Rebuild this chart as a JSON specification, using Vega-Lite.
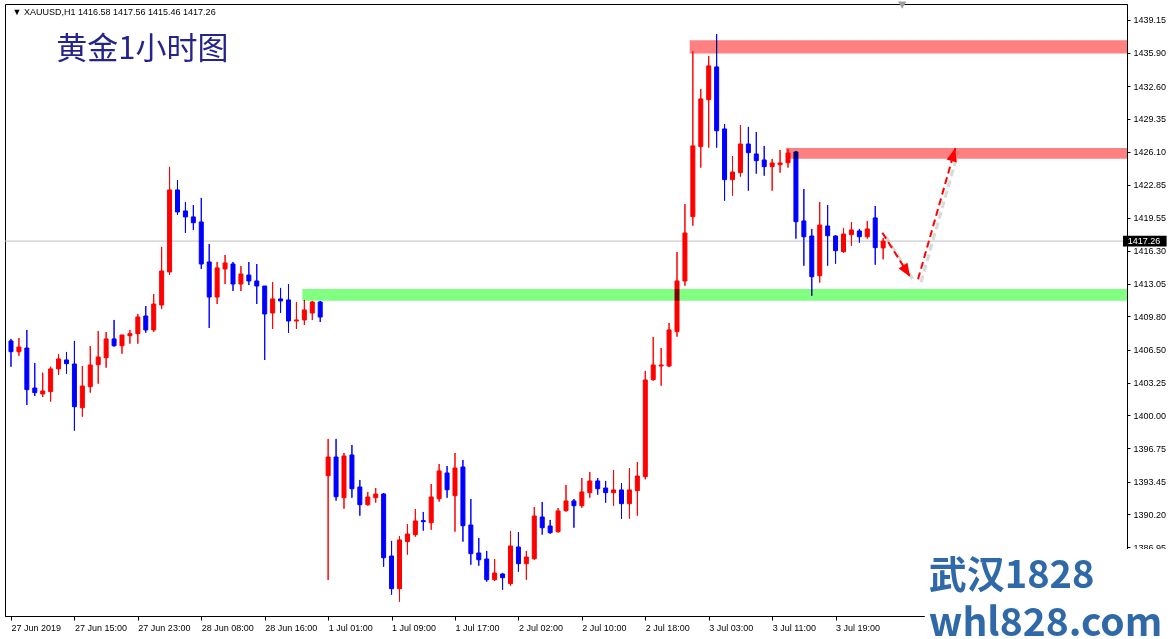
{
  "$schema": "https://vega.github.io/schema/vega-lite/v6.json",
  "width": 1122,
  "height": 612,
  "autosize": {"type": "none"},
  "padding": {"left": 5, "top": 4, "right": 48, "bottom": 23},
  "background": "white",
  "config": {
    "axis": {"labelFont": "Liberation Sans", "labelFontSize": 9, "labelColor": "#000", "tickColor": "#000", "domainColor": "#000", "grid": false, "domainWidth": 1, "tickWidth": 1, "labelOverlap": false, "labelFlush": false},
    "view": {"stroke": "#000", "strokeWidth": 1}
  },
  "datasets": {
    "candles": [
      {"t":0,"o":1407.37,"h":1407.57,"l":1404.82,"c":1406.31},
      {"t":1,"o":1406.31,"h":1407.66,"l":1405.91,"c":1406.77},
      {"t":2,"o":1406.67,"h":1408.46,"l":1401.03,"c":1402.55},
      {"t":3,"o":1402.71,"h":1405.19,"l":1401.92,"c":1402.25},
      {"t":4,"o":1402.12,"h":1404.23,"l":1401.82,"c":1402.42},
      {"t":5,"o":1402.35,"h":1404.82,"l":1401.36,"c":1404.60},
      {"t":6,"o":1404.60,"h":1406.08,"l":1404.00,"c":1405.59},
      {"t":7,"o":1405.49,"h":1406.28,"l":1404.13,"c":1405.12},
      {"t":8,"o":1405.09,"h":1407.37,"l":1398.49,"c":1400.86},
      {"t":9,"o":1400.76,"h":1404.89,"l":1399.87,"c":1402.91},
      {"t":10,"o":1402.84,"h":1406.87,"l":1402.25,"c":1404.99},
      {"t":11,"o":1405.02,"h":1408.36,"l":1403.14,"c":1405.78},
      {"t":12,"o":1405.71,"h":1408.26,"l":1404.72,"c":1407.57},
      {"t":13,"o":1407.57,"h":1409.45,"l":1406.80,"c":1406.90},
      {"t":14,"o":1406.90,"h":1407.96,"l":1406.11,"c":1407.96},
      {"t":15,"o":1407.89,"h":1408.46,"l":1407.10,"c":1408.09},
      {"t":16,"o":1408.09,"h":1410.04,"l":1407.10,"c":1409.74},
      {"t":17,"o":1409.84,"h":1410.83,"l":1408.19,"c":1408.46},
      {"t":18,"o":1408.46,"h":1412.02,"l":1408.26,"c":1411.03},
      {"t":19,"o":1410.93,"h":1416.68,"l":1410.54,"c":1414.30},
      {"t":20,"o":1414.20,"h":1424.60,"l":1413.90,"c":1422.32},
      {"t":21,"o":1422.32,"h":1423.31,"l":1419.84,"c":1420.14},
      {"t":22,"o":1420.24,"h":1421.13,"l":1418.06,"c":1419.65},
      {"t":23,"o":1419.65,"h":1420.83,"l":1418.36,"c":1419.08},
      {"t":24,"o":1419.15,"h":1421.53,"l":1414.50,"c":1414.99},
      {"t":25,"o":1415.19,"h":1416.97,"l":1408.66,"c":1411.72},
      {"t":26,"o":1411.72,"h":1415.19,"l":1411.03,"c":1414.60},
      {"t":27,"o":1414.50,"h":1415.88,"l":1413.01,"c":1415.09},
      {"t":28,"o":1414.99,"h":1415.19,"l":1412.32,"c":1413.01},
      {"t":29,"o":1413.01,"h":1414.79,"l":1412.32,"c":1414.00},
      {"t":30,"o":1413.90,"h":1415.19,"l":1412.91,"c":1413.31},
      {"t":31,"o":1413.31,"h":1414.99,"l":1411.03,"c":1412.81},
      {"t":32,"o":1412.81,"h":1412.81,"l":1405.49,"c":1410.04},
      {"t":33,"o":1410.14,"h":1413.21,"l":1408.56,"c":1411.53},
      {"t":34,"o":1411.53,"h":1412.62,"l":1410.14,"c":1411.33},
      {"t":35,"o":1411.43,"h":1413.01,"l":1408.16,"c":1409.35},
      {"t":36,"o":1409.35,"h":1411.23,"l":1408.56,"c":1409.45},
      {"t":37,"o":1409.45,"h":1411.43,"l":1408.95,"c":1410.44},
      {"t":38,"o":1410.14,"h":1411.33,"l":1409.45,"c":1411.23},
      {"t":39,"o":1411.23,"h":1411.33,"l":1409.25,"c":1409.74},
      {"t":40,"o":1394.03,"h":1397.67,"l":1383.70,"c":1395.88},
      {"t":41,"o":1395.88,"h":1397.67,"l":1391.56,"c":1391.95},
      {"t":42,"o":1391.85,"h":1396.28,"l":1390.76,"c":1395.98},
      {"t":43,"o":1396.08,"h":1397.07,"l":1391.85,"c":1392.74},
      {"t":44,"o":1392.91,"h":1393.61,"l":1390.07,"c":1391.16},
      {"t":45,"o":1391.16,"h":1392.42,"l":1391.06,"c":1391.92},
      {"t":46,"o":1391.85,"h":1392.81,"l":1391.36,"c":1392.22},
      {"t":47,"o":1392.22,"h":1392.32,"l":1385.02,"c":1385.91},
      {"t":48,"o":1386.08,"h":1387.57,"l":1382.25,"c":1382.84},
      {"t":49,"o":1382.84,"h":1388.06,"l":1381.56,"c":1387.67},
      {"t":50,"o":1387.50,"h":1389.25,"l":1386.21,"c":1388.26},
      {"t":51,"o":1388.19,"h":1390.73,"l":1387.99,"c":1389.55},
      {"t":52,"o":1389.58,"h":1390.44,"l":1388.59,"c":1389.48},
      {"t":53,"o":1389.38,"h":1393.21,"l":1388.68,"c":1391.92},
      {"t":54,"o":1391.75,"h":1395.19,"l":1391.46,"c":1394.50},
      {"t":55,"o":1394.30,"h":1394.99,"l":1391.85,"c":1392.64},
      {"t":56,"o":1392.05,"h":1396.28,"l":1388.49,"c":1394.79},
      {"t":57,"o":1394.89,"h":1395.59,"l":1387.50,"c":1389.08},
      {"t":58,"o":1389.15,"h":1391.72,"l":1385.22,"c":1386.31},
      {"t":59,"o":1386.38,"h":1387.86,"l":1385.12,"c":1385.71},
      {"t":60,"o":1385.78,"h":1386.58,"l":1383.54,"c":1383.73},
      {"t":61,"o":1383.73,"h":1385.78,"l":1383.63,"c":1384.40},
      {"t":62,"o":1384.30,"h":1384.40,"l":1382.74,"c":1383.93},
      {"t":63,"o":1383.34,"h":1388.56,"l":1383.14,"c":1387.07},
      {"t":64,"o":1386.97,"h":1388.46,"l":1384.53,"c":1385.32},
      {"t":65,"o":1385.32,"h":1386.58,"l":1383.73,"c":1385.98},
      {"t":66,"o":1385.81,"h":1390.93,"l":1385.71,"c":1390.04},
      {"t":67,"o":1389.94,"h":1391.43,"l":1388.19,"c":1388.88},
      {"t":68,"o":1389.05,"h":1389.65,"l":1388.29,"c":1388.39},
      {"t":69,"o":1388.49,"h":1390.83,"l":1388.39,"c":1390.54},
      {"t":70,"o":1390.57,"h":1393.11,"l":1390.47,"c":1391.53},
      {"t":71,"o":1391.53,"h":1391.72,"l":1388.88,"c":1391.06},
      {"t":72,"o":1391.06,"h":1393.80,"l":1390.86,"c":1392.42},
      {"t":73,"o":1392.35,"h":1394.40,"l":1391.85,"c":1393.51},
      {"t":74,"o":1393.51,"h":1393.80,"l":1392.15,"c":1392.74},
      {"t":75,"o":1392.81,"h":1393.51,"l":1391.36,"c":1392.35},
      {"t":76,"o":1392.35,"h":1394.60,"l":1391.06,"c":1392.62},
      {"t":77,"o":1392.62,"h":1393.31,"l":1389.77,"c":1391.26},
      {"t":78,"o":1391.26,"h":1394.79,"l":1389.77,"c":1392.62},
      {"t":79,"o":1392.55,"h":1395.39,"l":1390.07,"c":1394.00},
      {"t":80,"o":1393.93,"h":1404.40,"l":1393.68,"c":1403.51},
      {"t":81,"o":1403.54,"h":1407.76,"l":1403.44,"c":1404.99},
      {"t":82,"o":1404.89,"h":1406.67,"l":1402.94,"c":1404.99},
      {"t":83,"o":1404.89,"h":1409.15,"l":1404.79,"c":1408.46},
      {"t":84,"o":1408.29,"h":1416.18,"l":1407.79,"c":1413.31},
      {"t":85,"o":1413.31,"h":1420.93,"l":1412.84,"c":1418.06},
      {"t":86,"o":1419.68,"h":1436.05,"l":1418.78,"c":1426.68},
      {"t":87,"o":1426.61,"h":1432.32,"l":1424.53,"c":1431.33},
      {"t":88,"o":1431.26,"h":1435.59,"l":1426.51,"c":1434.60},
      {"t":89,"o":1434.50,"h":1437.76,"l":1426.51,"c":1428.19},
      {"t":90,"o":1428.36,"h":1428.85,"l":1421.26,"c":1423.34},
      {"t":91,"o":1423.34,"h":1425.68,"l":1421.75,"c":1424.10},
      {"t":92,"o":1424.03,"h":1428.75,"l":1423.64,"c":1426.87},
      {"t":93,"o":1426.87,"h":1428.56,"l":1422.25,"c":1426.01},
      {"t":94,"o":1425.88,"h":1428.06,"l":1423.93,"c":1425.22},
      {"t":95,"o":1425.29,"h":1426.68,"l":1423.73,"c":1424.63},
      {"t":96,"o":1424.63,"h":1425.39,"l":1422.25,"c":1424.99},
      {"t":97,"o":1424.82,"h":1426.28,"l":1424.03,"c":1424.99},
      {"t":98,"o":1425.02,"h":1426.38,"l":1424.53,"c":1425.98},
      {"t":99,"o":1426.08,"h":1426.18,"l":1417.50,"c":1419.18},
      {"t":100,"o":1419.25,"h":1422.42,"l":1414.82,"c":1417.69},
      {"t":101,"o":1417.76,"h":1418.46,"l":1411.85,"c":1413.73},
      {"t":102,"o":1413.83,"h":1421.13,"l":1413.14,"c":1418.85},
      {"t":103,"o":1418.75,"h":1420.83,"l":1414.82,"c":1417.79},
      {"t":104,"o":1417.76,"h":1417.86,"l":1415.02,"c":1416.31},
      {"t":105,"o":1416.21,"h":1418.56,"l":1416.11,"c":1417.96},
      {"t":106,"o":1417.89,"h":1419.15,"l":1416.80,"c":1418.36},
      {"t":107,"o":1418.26,"h":1418.46,"l":1417.10,"c":1417.69},
      {"t":108,"o":1417.69,"h":1419.25,"l":1417.50,"c":1418.46},
      {"t":109,"o":1419.55,"h":1420.73,"l":1414.92,"c":1416.61},
      {"t":110,"o":1416.58,"h":1417.56,"l":1415.46,"c":1417.26}
    ],
    "zones": [
      {"zone": "resistance high", "start": 85.6, "top": 1437.13, "bottom": 1435.83},
      {"zone": "resistance low", "start": 97.75, "top": 1426.48, "bottom": 1425.42},
      {"zone": "support", "start": 36.75, "top": 1412.52, "bottom": 1411.36}
    ],
    "arrows": [
      {"arrow": "down", "t": 109.9, "p": 1418.09},
      {"arrow": "down", "t": 113.4, "p": 1413.73},
      {"arrow": "up", "t": 114.4, "p": 1413.48},
      {"arrow": "up", "t": 119.1, "p": 1426.45}
    ],
    "one": [{}]
  },
  "layer": [
    {
      "data": {"name": "candles"},
      "mark": {"type": "rule", "strokeWidth": 1},
      "encoding": {
        "x": {"field": "t", "type": "quantitative",
          "scale": {"domain": [-0.125, 140.125], "nice": false, "zero": false},
          "axis": {"orient": "bottom", "title": null, "values": [0,8,16,24,32,40,48,56,64,72,80,88,96,104], "tickCount": 40,
            "labelExpr": "['27 Jun 2019','27 Jun 15:00','27 Jun 23:00','28 Jun 08:00','28 Jun 16:00','1 Jul 01:00','1 Jul 09:00','1 Jul 17:00','2 Jul 02:00','2 Jul 10:00','2 Jul 18:00','3 Jul 03:00','3 Jul 11:00','3 Jul 19:00'][round(datum.value/8)]",
            "labelAlign": "left", "labelBaseline": "top", "labelPadding": 3, "tickSize": 4, "labelFlush": false, "labelOverlap": false}},
        "y": {"field": "l", "type": "quantitative",
          "scale": {"domain": [1380.14, 1440.73], "nice": false, "zero": false},
          "axis": {"orient": "right", "title": null, "tickCount": 40,
            "values": [1439.15,1435.90,1432.60,1429.35,1426.10,1422.85,1419.55,1416.30,1413.05,1409.80,1406.50,1403.25,1400.00,1396.75,1393.45,1390.20,1386.95],
            "format": ".2f", "tickSize": 3, "labelPadding": 3, "labelBaseline": "middle", "labelOverlap": false, "labelFlush": false}},
        "y2": {"field": "h"},
        "color": {"condition": {"test": "datum.c > datum.o", "value": "#ff0000"}, "value": "#0000ff"}
      }
    },
    {
      "data": {"name": "one"},
      "mark": {"type": "rule", "color": "#c0c0c0", "strokeWidth": 1},
      "encoding": {"y": {"datum": 1417.26}}
    },
    {
      "data": {"name": "candles"},
      "mark": {"type": "rule", "strokeWidth": 1},
      "encoding": {
        "x": {"field": "t", "type": "quantitative", "title": null},
        "y": {"field": "l", "type": "quantitative", "title": null},
        "y2": {"field": "h"},
        "color": {"condition": {"test": "datum.c > datum.o", "value": "#ff0000"}, "value": "#0000ff"}
      }
    },
    {
      "data": {"name": "candles"},
      "mark": {"type": "bar", "width": 4, "strokeWidth": 1},
      "encoding": {
        "x": {"field": "t", "type": "quantitative", "title": null},
        "y": {"field": "o", "type": "quantitative", "title": null},
        "y2": {"field": "c"},
        "fill": {"condition": {"test": "datum.c > datum.o", "value": "#ff0000"}, "value": "#0000ff"},
        "stroke": {"condition": {"test": "datum.c > datum.o", "value": "#ff0000"}, "value": "#0000ff"}
      }
    },
    {
      "data": {"name": "zones"},
      "mark": {"type": "rect", "blend": "multiply"},
      "encoding": {
        "x": {"field": "start", "type": "quantitative", "title": null},
        "x2": {"value": "width"},
        "y": {"field": "top", "type": "quantitative", "title": null},
        "y2": {"field": "bottom"},
        "fill": {"field": "zone", "type": "nominal", "legend": null,
          "scale": {"domain": ["resistance high", "resistance low", "support"], "range": ["#ff8080", "#ff8080", "#80ff80"]}}
      }
    },
    {
      "data": {"name": "arrows"},
      "mark": {"type": "line", "color": "#808080", "opacity": 0.3, "strokeWidth": 3, "strokeDash": [7, 4], "xOffset": 3, "yOffset": 3},
      "encoding": {
        "x": {"field": "t", "type": "quantitative", "title": null},
        "y": {"field": "p", "type": "quantitative", "title": null},
        "detail": {"field": "arrow"}
      }
    },
    {
      "data": {"name": "arrows"},
      "mark": {"type": "line", "color": "#ff0000", "strokeWidth": 2, "strokeDash": [7, 4]},
      "encoding": {
        "x": {"field": "t", "type": "quantitative", "title": null},
        "y": {"field": "p", "type": "quantitative", "title": null},
        "detail": {"field": "arrow"}
      }
    },
    {
      "data": {"name": "one"},
      "mark": {"type": "point", "shape": "M0,0L-0.4,1L0.4,1Z", "filled": true, "color": "#ff0000", "opacity": 1, "size": 700, "angle": 147.5},
      "encoding": {"x": {"datum": 113.4}, "y": {"datum": 1413.73}}
    },
    {
      "data": {"name": "one"},
      "mark": {"type": "point", "shape": "M0,0L-0.4,1L0.4,1Z", "filled": true, "color": "#ff0000", "opacity": 1, "size": 700, "angle": 16.1},
      "encoding": {"x": {"datum": 119.1}, "y": {"datum": 1426.45}}
    },
    {
      "data": {"name": "one"},
      "mark": {"type": "text", "text": "黄金1小时图", "font": "Noto Sans CJK SC", "fontSize": 31, "color": "#24248c", "align": "left", "baseline": "middle"},
      "encoding": {"x": {"datum": 5.7}, "y": {"datum": 1436.18}}
    },
    {
      "data": {"name": "one"},
      "mark": {"type": "text", "text": "▼ XAUUSD,H1  1416.58 1417.56 1415.46 1417.26", "font": "Liberation Sans", "fontSize": 9, "color": "#000", "align": "left", "baseline": "middle"},
      "encoding": {"x": {"datum": 0.2}, "y": {"datum": 1439.89}}
    },
    {
      "data": {"name": "one"},
      "mark": {"type": "point", "shape": "triangle-down", "filled": true, "color": "#a0a0a0", "opacity": 1, "size": 70},
      "encoding": {"x": {"datum": 112.4}, "y": {"datum": 1440.63}}
    },
    {
      "data": {"name": "one"},
      "mark": {"type": "rect", "color": "#000"},
      "encoding": {"x": {"datum": 140.25}, "x2": {"datum": 145.75}, "y": {"datum": 1417.79}, "y2": {"datum": 1416.71}}
    },
    {
      "data": {"name": "one"},
      "mark": {"type": "text", "text": "1417.26", "font": "Liberation Sans", "fontSize": 9, "color": "#fff", "align": "left", "baseline": "middle"},
      "encoding": {"x": {"datum": 140.85}, "y": {"datum": 1417.25}}
    },
    {
      "data": {"name": "one"},
      "mark": {"type": "rect", "color": "#fff"},
      "encoding": {"x": {"datum": 115.25}, "x2": {"datum": 147}, "y": {"datum": 1386.77}, "y2": {"datum": 1377.0}}
    },
    {
      "data": {"name": "one"},
      "mark": {"type": "text", "text": "武汉1828", "font": "Noto Sans CJK SC", "fontWeight": "bold", "fontSize": 38, "color": "#3069a8", "align": "left", "baseline": "alphabetic"},
      "encoding": {"x": {"datum": 115.75}, "y": {"datum": 1382.91}}
    },
    {
      "data": {"name": "one"},
      "mark": {"type": "text", "text": "whl828.com", "font": "Noto Sans CJK SC", "fontWeight": "bold", "fontSize": 39, "color": "#3069a8", "align": "left", "baseline": "alphabetic"},
      "encoding": {"x": {"datum": 115.75}, "y": {"datum": 1378.2}}
    }
  ]
}
